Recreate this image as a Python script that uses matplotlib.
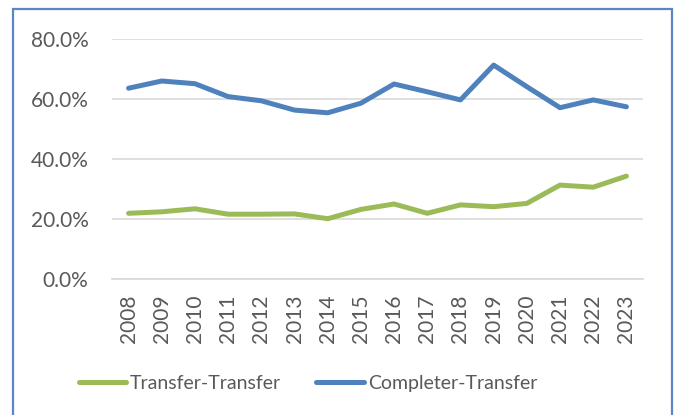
import matplotlib
matplotlib.use("Agg")
import matplotlib.pyplot as plt
from matplotlib.patches import Rectangle
from matplotlib.ticker import PercentFormatter, MultipleLocator

years = [str(y) for y in range(2008, 2024)]
transfer_transfer = [21.9, 22.4, 23.4, 21.6, 21.6, 21.7, 20.1, 23.2, 25.0, 21.9, 24.7, 24.1, 25.2, 31.3, 30.6, 34.3]
completer_transfer = [63.6, 66.0, 65.1, 60.8, 59.4, 56.3, 55.4, 58.6, 65.0, 62.4, 59.7, 71.3, 64.1, 57.1, 59.7, 57.4]

W, H = 678, 415
fig = plt.figure(figsize=(W / 100, H / 100), dpi=100)
plt.rcParams['font.family'] = ['Lato', 'DejaVu Sans']
FS = 15

ax = fig.add_axes([112 / W, (H - 279) / H, (643 - 112) / W, (279 - 39) / H])
x = list(range(len(years)))
ax.plot(x, transfer_transfer, color='#9BBB59', lw=3.6, solid_capstyle='round', label='Transfer-Transfer')
ax.plot(x, completer_transfer, color='#4F81BD', lw=3.6, solid_capstyle='round', label='Completer-Transfer')

ax.set_xlim(-0.5, len(years) - 0.5)
ax.set_ylim(0, 80)
ax.yaxis.set_major_locator(MultipleLocator(20))
ax.yaxis.set_major_formatter(PercentFormatter(decimals=1))
ax.set_xticks(x)
ax.set_xticklabels(years, rotation=90)
ax.grid(axis='y', color='#D9D9D9', lw=1.2)
ax.set_axisbelow(True)
for s in ['top', 'right', 'left']:
    ax.spines[s].set_visible(False)
ax.spines['bottom'].set_color('#D9D9D9')
ax.spines['bottom'].set_linewidth(1.2)
ax.tick_params(axis='both', length=0, colors='#595959', labelsize=FS)
ax.tick_params(axis='y', pad=17)
ax.tick_params(axis='x', pad=11)

fig.legend(loc='center', bbox_to_anchor=(308 / W, (H - 383) / H), ncol=2, frameon=False,
           fontsize=14, handlelength=2.45, handletextpad=0.2, columnspacing=1.8,
           labelcolor='#595959')

fig.patches.append(Rectangle((13 / W, -0.1), (672 - 13) / W, (H - 9) / H + 0.1,
                             transform=fig.transFigure, fill=False, edgecolor='#5B86C5',
                             lw=1.6, clip_on=False))

fig.savefig('out.png', dpi=100)
